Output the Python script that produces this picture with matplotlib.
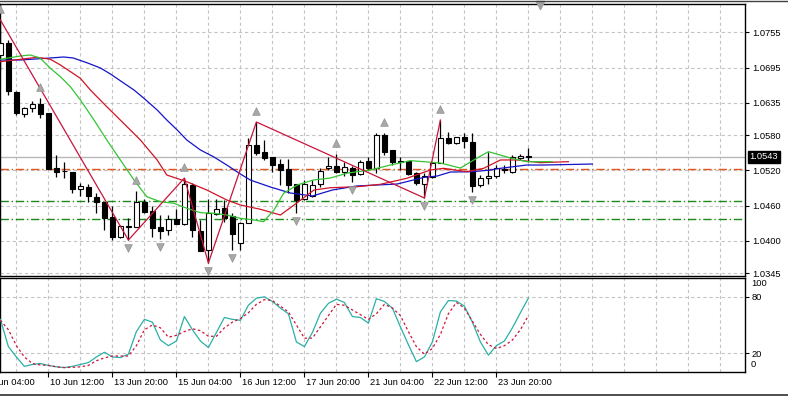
import matplotlib
matplotlib.use("Agg")
import matplotlib.pyplot as plt
from matplotlib.lines import Line2D

plt.rcParams['font.family'] = ['Liberation Sans', 'DejaVu Sans']

# H4 candles, index 0 .. 66
opens = [1.07164, 1.07368, 1.06534, 1.06160, 1.06262, 1.06330, 1.06177, 1.05241, 1.05190, 1.05173,
         1.04884, 1.04918, 1.04748, 1.04663, 1.04408, 1.04067, 1.04254, 1.04237, 1.04663, 1.04510,
         1.04237, 1.04186, 1.04374, 1.04288, 1.04952, 1.04169, 1.03846, 1.04459, 1.04561, 1.04425,
         1.03965, 1.04306, 1.05633, 1.05514, 1.05429, 1.05310, 1.05224, 1.04969, 1.04714, 1.04765,
         1.04969, 1.05241, 1.05275, 1.05173, 1.05241, 1.05139, 1.05360, 1.05241, 1.05803, 1.05548,
         1.05360, 1.05360, 1.05156, 1.04969, 1.05088, 1.05326, 1.05752, 1.05667, 1.05769, 1.05684,
         1.04952, 1.05071, 1.05105, 1.05224, 1.05173, 1.05412, 1.05446]
highs = [1.07759, 1.07419, 1.06551, 1.06279, 1.06381, 1.06432, 1.06177, 1.05463, 1.05343, 1.05173,
         1.04986, 1.04969, 1.04816, 1.04663, 1.04595, 1.04271, 1.04391, 1.04850, 1.04714, 1.04595,
         1.04441, 1.04441, 1.04544, 1.05071, 1.04986, 1.04356, 1.04714, 1.04714, 1.04697, 1.04476,
         1.04323, 1.05752, 1.06024, 1.05718, 1.05429, 1.05395, 1.05395, 1.04969, 1.05037, 1.05037,
         1.05241, 1.05429, 1.05480, 1.05343, 1.05275, 1.05378, 1.05429, 1.05837, 1.05837, 1.05548,
         1.05429, 1.05360, 1.05173, 1.05156, 1.05343, 1.06058, 1.05854, 1.05769, 1.05837, 1.05837,
         1.05122, 1.05514, 1.05293, 1.05293, 1.05463, 1.05480, 1.05582]
lows = [1.06909, 1.06483, 1.06143, 1.06109, 1.06194, 1.06092, 1.05224, 1.05088, 1.05071, 1.04816,
        1.04765, 1.04663, 1.04476, 1.04186, 1.04016, 1.04050, 1.04016, 1.04237, 1.04476, 1.04067,
        1.04033, 1.04101, 1.04288, 1.04271, 1.04067, 1.03829, 1.03625, 1.04442, 1.04323, 1.03846,
        1.03846, 1.04306, 1.05463, 1.05378, 1.05173, 1.04952, 1.04816, 1.04476, 1.04697, 1.04748,
        1.04918, 1.05207, 1.05156, 1.05105, 1.05003, 1.05122, 1.05207, 1.05156, 1.05463, 1.05293,
        1.05207, 1.05122, 1.04952, 1.04731, 1.05071, 1.05326, 1.05650, 1.05650, 1.05582, 1.04833,
        1.04918, 1.04969, 1.05071, 1.05156, 1.05156, 1.05378, 1.05343]
closes = [1.07368, 1.06551, 1.06177, 1.06262, 1.06330, 1.06160, 1.05224, 1.05173, 1.05182, 1.04884,
          1.04935, 1.04765, 1.04663, 1.04391, 1.04067, 1.04254, 1.04246, 1.04663, 1.04493, 1.04220,
          1.04169, 1.04374, 1.04288, 1.04969, 1.04186, 1.03829, 1.04476, 1.04544, 1.04391, 1.04118,
          1.04306, 1.05633, 1.05497, 1.05412, 1.05293, 1.05207, 1.04952, 1.04697, 1.04969, 1.04952,
          1.05190, 1.05275, 1.05173, 1.05258, 1.05122, 1.05343, 1.05241, 1.05803, 1.05514, 1.05343,
          1.05343, 1.05139, 1.04986, 1.05105, 1.05326, 1.05752, 1.05667, 1.05769, 1.05701, 1.04935,
          1.05071, 1.05105, 1.05241, 1.05207, 1.05429, 1.05446, 1.05430]

# Alligator lines (bar index -> price)
jaw_x = [0, 2.5, 4.4, 6.25, 7.9, 9.1, 10.9, 12.5, 13.75, 15.4, 16.7, 17.9, 19.6, 20.8, 22.1, 23.3,
         25, 26.7, 28.3, 30, 31.25, 33.75, 36.25, 39, 41.5, 44.5, 49.6, 52.9, 54.6, 56.25, 59,
         61.25, 62.5, 65.8, 67.9, 74]
jaw_y = [1.07079, 1.07079, 1.07096, 1.07113, 1.07130, 1.07113, 1.07028, 1.06943, 1.06841, 1.06688,
         1.06568, 1.06432, 1.06228, 1.06058, 1.05888, 1.05718, 1.05548, 1.05428, 1.05292, 1.05139,
         1.05036, 1.04918, 1.04816, 1.04765, 1.04867, 1.04935, 1.04969, 1.05080, 1.05105, 1.05173,
         1.05178, 1.05207, 1.05236, 1.05292, 1.05292, 1.05309]
teeth_x = [0, 2.5, 4.6, 6.25, 7.5, 10, 11.25, 13.3, 15.4, 17.5, 19.6, 20.8, 23.3, 25.8, 28.3, 30,
           32.5, 35, 37, 39.2, 41.25, 44.6, 47.5, 50.8, 53.75, 55.4, 58.3, 60.4, 62.5, 64.6, 67.5, 71]
teeth_y = [1.07050, 1.07091, 1.07125, 1.07091, 1.06994, 1.06767, 1.06568, 1.06284, 1.06002, 1.05718,
           1.05377, 1.05122, 1.05008, 1.04867, 1.04697, 1.04612, 1.04539, 1.04442, 1.04641, 1.04867,
           1.04906, 1.04923, 1.04964, 1.05066, 1.05207, 1.05236, 1.05178, 1.05236, 1.05378, 1.05378,
           1.05332, 1.05349]
lips_x = [0, 2.5, 3.75, 5, 6.25, 7.5, 8.75, 10, 11.7, 13.3, 15, 16.7, 18.3, 20, 21.7, 23.3, 25,
          26.7, 28.3, 30, 31.7, 32.9, 34.2, 35.4, 37.1, 39.1, 41.25, 43.4, 46.25, 48.75, 51.25,
          52.9, 55, 57.5, 59.6, 61, 62.5, 63.75, 65.8, 69]
lips_y = [1.07091, 1.07147, 1.07164, 1.07108, 1.06937, 1.06795, 1.06624, 1.06398, 1.06058, 1.05718,
          1.05377, 1.05037, 1.04753, 1.04668, 1.04641, 1.04556, 1.04481, 1.04471, 1.04442, 1.04386,
          1.04357, 1.04328, 1.04527, 1.04811, 1.04952, 1.05037, 1.05071, 1.05156, 1.05207, 1.05292,
          1.05366, 1.05349, 1.05326, 1.05241, 1.05411, 1.05519, 1.05462, 1.05411, 1.05349, 1.05349]

# ZigZag vertices and fractals (bar indices)
zz_idx = [0, 16, 23, 26, 32, 53, 55]
frac_up = [0, 5, 17, 23, 32, 42, 48, 55]
frac_dn = [16, 20, 26, 29, 37, 44, 53, 59]

# horizontal levels
bid = 1.0543
level_orange = 1.0522
levels_green = [1.0468, 1.04374]

price_ticks = [1.0755, 1.0695, 1.0635, 1.0580, 1.0520, 1.0460, 1.0400, 1.0345]

# Stochastic main / signal per bar
stoch_main = [56, 27, 16, 6, 8, 9, 7, 5.5, 4.7, 6, 8, 10, 16, 21, 16, 15.4, 19, 43, 56, 53,
              34, 28, 33, 59, 45, 33, 26, 42, 58, 56, 55, 71, 78.5, 80, 75, 68, 62, 32, 27, 42,
              62.5, 73, 77.5, 74, 59, 58, 52, 78, 75, 68, 48, 29, 11, 16, 32, 64, 76, 75.5, 70, 53,
              32, 18, 28, 33, 47, 63, 78.6]
stoch_signal = [55, 45, 28, 16, 9, 7.5, 7, 5.5, 4.7, 5, 5.5, 7, 12, 15, 17, 17, 17, 28, 45, 50,
                47, 37, 39, 43, 46, 44, 38, 38, 47, 53, 57, 63, 72, 77, 76, 70, 64, 50, 36, 36,
                48, 60, 72, 71, 66, 61, 56, 62, 72, 68, 60, 43, 27, 19, 25, 40, 62, 74, 68, 54,
                40, 29, 25, 28, 34, 45, 60]

tick_idx = [-2, 6, 14, 22, 30, 38, 46, 54, 62]
tick_labels = ['9 Jun 04:00', '10 Jun 12:00', '13 Jun 20:00', '15 Jun 04:00', '16 Jun 12:00',
               '17 Jun 20:00', '21 Jun 04:00', '22 Jun 12:00', '23 Jun 20:00']

W, H = 788, 396
fig = plt.figure(figsize=(W / 100, H / 100), dpi=100)
ax = fig.add_axes([0, 1 - 276 / H, 745 / W, 272 / H])
ax2 = fig.add_axes([0, 1 - 372 / H, 745 / W, 94 / H])

grid_kw = dict(color='#c4c4c4', lw=0.8, ls=(0, (3, 2.5)), zorder=0)
xmax = 745 / 8
for a in (ax, ax2):
    a.set_xlim(-0.05, xmax - 0.05)
    for gx in range(2, 92, 4):
        a.axvline(gx, **grid_kw)
    for s in a.spines.values():
        s.set_linewidth(1.0)
        s.set_color('black')

ax.set_ylim(1.03404, 1.080315)
for p in price_ticks:
    ax.axhline(p, **grid_kw)

# levels
ax.axhline(bid, color='#b8b8b8', lw=1, zorder=1)
ax.axhline(level_orange, color='#e0561e', lw=1, ls=(0, (6, 2, 1, 2)), zorder=1)
for lv in levels_green:
    ax.axhline(lv, color='#1a8a1a', lw=1, ls=(0, (6, 2, 1, 2)), zorder=1)

# candles
idx = list(range(len(opens)))
ax.vlines(idx, lows, highs, color='black', lw=0.9, zorder=3)
bottoms = [min(o, c) for o, c in zip(opens, closes)]
heights = [max(abs(c - o), 0.00002) for o, c in zip(opens, closes)]
colors = ['white' if c >= o else 'black' for o, c in zip(opens, closes)]
ax.bar(idx, heights, bottom=bottoms, width=0.62, color=colors, edgecolor='black',
       linewidth=0.8, zorder=4)

# alligator
ax.plot(jaw_x, jaw_y, color='#1414c8', lw=0.9, zorder=5)
ax.plot(teeth_x, teeth_y, color='#d01426', lw=0.9, zorder=5)
ax.plot(lips_x, lips_y, color='#33c433', lw=0.9, zorder=5)

# zigzag
zz_p = []
for i in zz_idx:
    if i in frac_up or i in (0, 55):
        zz_p.append(highs[i])
    else:
        zz_p.append(lows[i])
ax.plot(zz_idx, zz_p, color='#c8143c', lw=0.9, zorder=6)

# fractals
px = 1 / 5878
ax.scatter(frac_up, [highs[i] + 11 * px for i in frac_up], marker='^', s=30,
           color='#a8a8a8', edgecolors='#909090', linewidths=0.5, zorder=7, clip_on=False)
ax.scatter(frac_dn, [lows[i] - 8 * px for i in frac_dn], marker='v', s=30,
           color='#a8a8a8', edgecolors='#909090', linewidths=0.5, zorder=7, clip_on=False)

# chart shift marker
ax.scatter([67.5], [1.080315 - 1.5 * px], marker='v', s=35, color='#a0a0a0', zorder=8,
           clip_on=False)

fs = 6.7
ax.yaxis.tick_right()
ax.set_yticks(price_ticks)
ax.set_yticklabels([f'{p:.4f}' for p in price_ticks], fontsize=fs)
ax.tick_params(axis='y', length=3, width=0.8, pad=2)
ax.set_xticks([])

# current price tag
ax.annotate(f'{bid:.4f}', xy=(1, bid), xycoords=('axes fraction', 'data'),
            xytext=(3.3, 0), textcoords='offset points', ha='left', va='center',
            fontsize=fs, color='white', annotation_clip=False,
            bbox=dict(boxstyle='square,pad=0.18', fc='black', ec='black'), zorder=10)

# stochastic
ax2.set_ylim(0, 100)
for lv in (20, 80):
    ax2.axhline(lv, **grid_kw)
ax2.plot(idx, stoch_main, color='#2ab0a6', lw=0.9, zorder=3)
ax2.plot(idx, stoch_signal, color='#d0143c', lw=0.9, ls=(0, (2, 2)), zorder=3)
ax2.yaxis.tick_right()
ax2.set_yticks([20, 80])
ax2.set_yticklabels(['20', '80'], fontsize=fs)
ax2.tick_params(axis='y', length=3, width=0.8, pad=2)
for val, va, dy in ((100, 'top', -1), (0, 'bottom', 2)):
    ax2.annotate(str(val), xy=(1, val), xycoords=('axes fraction', 'data'),
                 xytext=(4.2, dy), textcoords='offset points', ha='left', va=va,
                 fontsize=fs, annotation_clip=False)

ax2.set_xticks([i for i in tick_idx if i >= 0])
ax2.set_xticklabels([])
ax2.tick_params(axis='x', length=3.5, width=0.8)
for i, lab in zip(tick_idx, tick_labels):
    ax2.annotate(lab, xy=(i, 0), xycoords=('data', 'axes fraction'), xytext=(1, -4),
                 textcoords='offset points', ha='left', va='top', fontsize=fs,
                 annotation_clip=False)

# window frame lines
fig.add_artist(Line2D([0, 1], [1 - 1.2 / H, 1 - 1.2 / H], color='#404040', lw=1))
fig.add_artist(Line2D([0, 1], [1 - 394.5 / H, 1 - 394.5 / H], color='#303030', lw=1.2))

fig.savefig('out.png', dpi=100)
